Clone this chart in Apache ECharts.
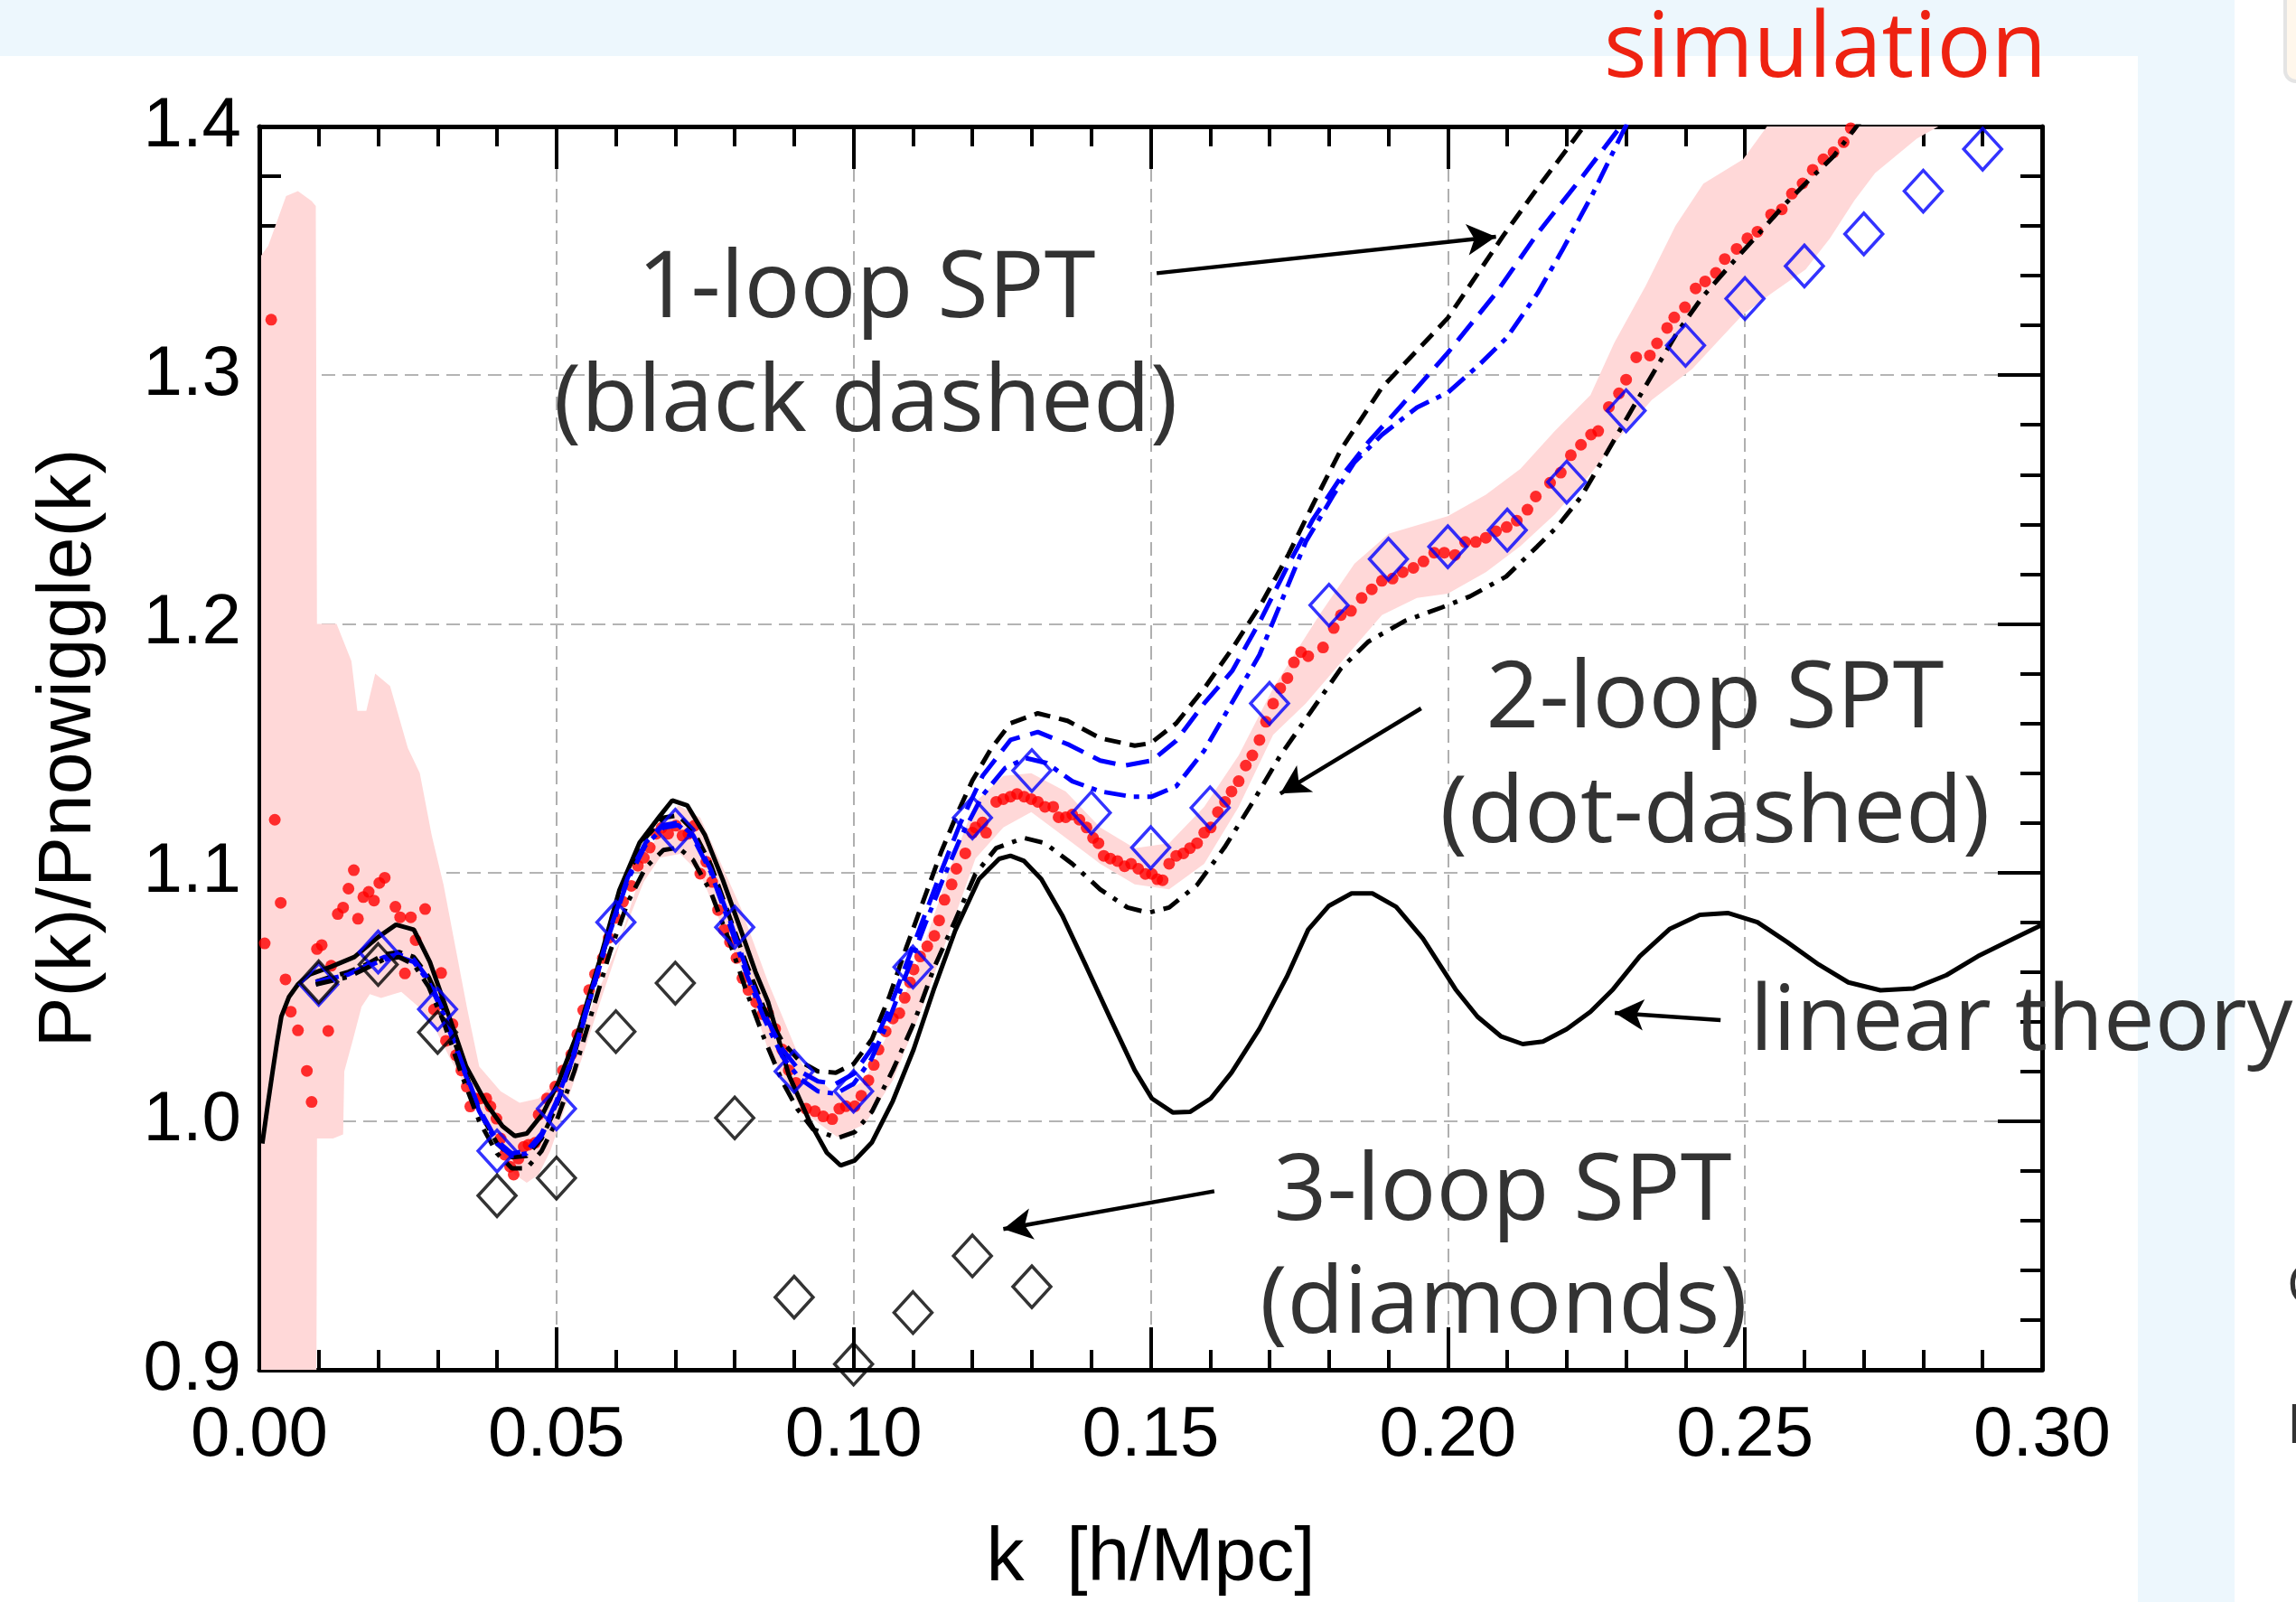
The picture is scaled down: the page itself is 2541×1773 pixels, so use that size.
<!DOCTYPE html>
<html><head><meta charset="utf-8">
<script src="https://cdn.jsdelivr.net/npm/echarts@6/dist/echarts.min.js"></script>
<style>html,body{margin:0;padding:0;background:#fff}#c{width:2541px;height:1773px}</style>
</head><body><div id="c"></div><script>
// ---------------- data ----------------
const xTicks = [0, 0.05, 0.10, 0.15, 0.20, 0.25, 0.30];
const yTicks = [0.9, 1.0, 1.1, 1.2, 1.3, 1.4];

const linearTheory = [[0.0005,0.991],[0.0015,1.008],[0.0023,1.021],[0.003,1.032],[0.0037,1.042],[0.005,1.050],[0.0065,1.055],[0.0085,1.059],[0.012,1.062],[0.016,1.066],[0.02,1.074],[0.023,1.079],[0.026,1.077],[0.0287,1.064],[0.0321,1.041],[0.0348,1.022],[0.0382,1.007],[0.0409,0.998],[0.043,0.994],[0.045,0.995],[0.0477,1.003],[0.0504,1.016],[0.0538,1.037],[0.0572,1.064],[0.0606,1.093],[0.064,1.112],[0.0674,1.1227],[0.0695,1.129],[0.072,1.127],[0.075,1.115],[0.078,1.097],[0.081,1.077],[0.0835,1.060],[0.0856,1.048],[0.0891,1.0185],[0.0926,0.9998],[0.0955,0.9873],[0.0978,0.9822],[0.1002,0.9842],[0.1031,0.9915],[0.1066,1.0081],[0.1101,1.0288],[0.1136,1.0537],[0.1171,1.0766],[0.1211,1.0973],[0.1245,1.1055],[0.1264,1.1067],[0.1287,1.1046],[0.1316,1.0973],[0.1351,1.0828],[0.1392,1.062],[0.1432,1.0413],[0.1473,1.0205],[0.1502,1.0091],[0.1537,1.0035],[0.1566,1.0037],[0.1601,1.0091],[0.1636,1.0195],[0.1683,1.0371],[0.1729,1.058],[0.1765,1.077],[0.18,1.0866],[0.1838,1.0916],[0.1873,1.0916],[0.1913,1.0862],[0.1958,1.0735],[0.2013,1.053],[0.205,1.042],[0.209,1.034],[0.2126,1.031],[0.216,1.032],[0.22,1.037],[0.224,1.044],[0.2278,1.053],[0.2323,1.0663],[0.2373,1.0772],[0.2424,1.083],[0.2471,1.0837],[0.2521,1.080],[0.2571,1.072],[0.2624,1.063],[0.2674,1.0558],[0.2728,1.0526],[0.2783,1.0533],[0.2839,1.0587],[0.2892,1.0663],[0.2953,1.0735],[0.3,1.079]];

const oneLoop = [[0.0095,1.056],[0.012,1.058],[0.015,1.060],[0.018,1.063],[0.021,1.067],[0.0235,1.068],[0.026,1.066],[0.0285,1.058],[0.031,1.045],[0.034,1.024],[0.037,1.004],[0.04,0.991],[0.0425,0.9855],[0.045,0.986],[0.0475,0.993],[0.05,1.006],[0.053,1.027],[0.056,1.052],[0.059,1.077],[0.062,1.099],[0.065,1.114],[0.068,1.122],[0.0705,1.123],[0.073,1.117],[0.076,1.103],[0.079,1.083],[0.082,1.063],[0.085,1.045],[0.088,1.032],[0.091,1.024],[0.094,1.020],[0.097,1.0195],[0.1,1.023],[0.1031,1.033],[0.106,1.050],[0.1089,1.070],[0.1118,1.089],[0.1147,1.108],[0.1175,1.124],[0.120,1.137],[0.1232,1.150],[0.1264,1.160],[0.131,1.164],[0.136,1.161],[0.1415,1.154],[0.1473,1.151],[0.150,1.152],[0.1543,1.160],[0.159,1.174],[0.1637,1.190],[0.1686,1.208],[0.1732,1.228],[0.1773,1.248],[0.182,1.270],[0.1889,1.295],[0.2,1.323],[0.2093,1.356],[0.215,1.375],[0.2204,1.392],[0.226,1.41]];

const blueDashed = [[0.0095,1.056],[0.015,1.059],[0.021,1.066],[0.0235,1.067],[0.026,1.065],[0.0285,1.057],[0.031,1.044],[0.034,1.024],[0.037,1.005],[0.04,0.992],[0.0425,0.987],[0.045,0.988],[0.0475,0.995],[0.05,1.008],[0.053,1.028],[0.056,1.053],[0.059,1.077],[0.062,1.098],[0.065,1.112],[0.068,1.119],[0.0705,1.120],[0.073,1.115],[0.076,1.101],[0.079,1.082],[0.082,1.061],[0.085,1.043],[0.088,1.029],[0.091,1.020],[0.094,1.016],[0.097,1.015],[0.1,1.019],[0.103,1.029],[0.106,1.045],[0.109,1.064],[0.112,1.083],[0.115,1.102],[0.118,1.120],[0.1217,1.1388],[0.1264,1.1533],[0.131,1.1565],[0.1363,1.1513],[0.1415,1.145],[0.1456,1.143],[0.1502,1.145],[0.1543,1.153],[0.159,1.168],[0.1637,1.181],[0.1686,1.202],[0.1732,1.224],[0.1773,1.242],[0.182,1.259],[0.1866,1.273],[0.1919,1.287],[0.2,1.309],[0.2081,1.333],[0.2151,1.357],[0.2227,1.38],[0.2297,1.402]];

const blueDashDot = [[0.0095,1.055],[0.015,1.059],[0.021,1.065],[0.0235,1.066],[0.026,1.064],[0.0285,1.056],[0.031,1.043],[0.034,1.023],[0.037,1.004],[0.04,0.991],[0.0425,0.986],[0.045,0.987],[0.0475,0.994],[0.05,1.007],[0.053,1.027],[0.056,1.052],[0.059,1.076],[0.062,1.097],[0.065,1.111],[0.068,1.118],[0.0705,1.119],[0.073,1.114],[0.076,1.100],[0.079,1.080],[0.082,1.059],[0.085,1.041],[0.088,1.026],[0.091,1.017],[0.094,1.012],[0.097,1.011],[0.1,1.015],[0.103,1.025],[0.106,1.041],[0.109,1.060],[0.112,1.079],[0.115,1.097],[0.118,1.114],[0.1217,1.131],[0.1255,1.142],[0.129,1.146],[0.1325,1.144],[0.1368,1.1367],[0.1415,1.1326],[0.1467,1.1305],[0.1502,1.1305],[0.1543,1.1347],[0.159,1.149],[0.1636,1.168],[0.1683,1.1875],[0.172,1.209],[0.1761,1.233],[0.1808,1.252],[0.1843,1.265],[0.1889,1.276],[0.1948,1.287],[0.2,1.293],[0.2052,1.304],[0.2099,1.315],[0.2151,1.333],[0.2192,1.350],[0.2244,1.373],[0.2297,1.399],[0.231,1.405]];

const twoLoop = [[0.0095,1.055],[0.015,1.058],[0.021,1.065],[0.0235,1.066],[0.026,1.063],[0.0285,1.054],[0.031,1.040],[0.034,1.019],[0.037,1.000],[0.04,0.987],[0.0425,0.981],[0.045,0.981],[0.0475,0.988],[0.05,1.000],[0.053,1.020],[0.056,1.044],[0.059,1.068],[0.062,1.088],[0.065,1.102],[0.068,1.109],[0.0705,1.110],[0.073,1.105],[0.076,1.092],[0.079,1.073],[0.082,1.052],[0.085,1.033],[0.088,1.016],[0.0905,1.005],[0.0932,0.9967],[0.0973,0.9932],[0.1002,0.9956],[0.1031,1.0039],[0.1066,1.0205],[0.1101,1.0392],[0.1136,1.062],[0.1171,1.0807],[0.1205,1.0994],[0.124,1.1098],[0.1287,1.1139],[0.1322,1.1118],[0.1368,1.1035],[0.1415,1.0932],[0.1461,1.0859],[0.1496,1.0838],[0.1531,1.0859],[0.1578,1.095],[0.1624,1.110],[0.1671,1.128],[0.1718,1.147],[0.1769,1.1645],[0.182,1.182],[0.1866,1.1928],[0.1928,1.2012],[0.199,1.2066],[0.2037,1.211],[0.2098,1.219],[0.215,1.231],[0.2183,1.2388],[0.2224,1.251],[0.2265,1.2677],[0.2305,1.2843],[0.2346,1.301],[0.2387,1.3175],[0.2428,1.3313],[0.2474,1.3439],[0.2521,1.3563],[0.2568,1.3689],[0.2607,1.3783],[0.2649,1.388],[0.269,1.4007],[0.271,1.407]];

const simulation = [[0.0009,1.0715],[0.002,1.3223],[0.0026,1.1212],[0.0036,1.0878],[0.0044,1.057],[0.0053,1.044],[0.0065,1.0365],[0.008,1.0202],[0.0088,1.0077],[0.0097,1.0692],[0.0105,1.0708],[0.0116,1.0363],[0.0121,1.0625],[0.0132,1.0833],[0.0141,1.0859],[0.015,1.0935],[0.0159,1.1009],[0.0166,1.0814],[0.0175,1.0901],[0.0184,1.0922],[0.0193,1.0887],[0.0202,1.0958],[0.0211,1.0979],[0.0229,1.0862],[0.0237,1.082],[0.0245,1.0594],[0.0255,1.082],[0.0263,1.0728],[0.0279,1.0853],[0.0294,1.0449],[0.0306,1.0596],[0.0314,1.0323],[0.0325,1.039],[0.0331,1.0265],[0.034,1.0204],[0.0349,1.0139],[0.0355,1.0059],[0.0364,1.0091],[0.0372,1.0091],[0.0382,1.0091],[0.0389,1.0059],[0.0399,1.001],[0.0406,0.993],[0.0413,0.9865],[0.0422,0.9817],[0.0428,0.9785],[0.0436,0.9849],[0.0445,0.9897],[0.0453,0.9905],[0.0464,0.9913],[0.047,1.0026],[0.0484,1.0091],[0.0498,1.0139],[0.0511,1.0204],[0.0525,1.0268],[0.0535,1.0349],[0.0545,1.0446],[0.0555,1.0527],[0.0565,1.0591],[0.0578,1.0656],[0.0588,1.0737],[0.0599,1.0817],[0.0612,1.0882],[0.0626,1.0946],[0.0637,1.1027],[0.0647,1.1059],[0.0657,1.11],[0.0668,1.1156],[0.0677,1.118],[0.0688,1.1156],[0.0701,1.1188],[0.0712,1.1148],[0.0722,1.1156],[0.0732,1.1188],[0.0742,1.0995],[0.0752,1.1043],[0.0762,1.0962],[0.0772,1.0849],[0.0782,1.0769],[0.0792,1.072],[0.0803,1.0656],[0.0813,1.0575],[0.0823,1.0527],[0.0836,1.0478],[0.0847,1.043],[0.0856,1.0434],[0.0868,1.0371],[0.088,1.0288],[0.0891,1.0205],[0.0903,1.0154],[0.092,1.005],[0.0935,1.004],[0.0949,1.0019],[0.0964,1.0008],[0.0976,1.005],[0.0987,1.006],[0.1002,1.006],[0.1013,1.0102],[0.1025,1.0164],[0.1034,1.0226],[0.1042,1.0288],[0.1054,1.0361],[0.1066,1.0413],[0.1077,1.0434],[0.1086,1.0496],[0.1095,1.0558],[0.1101,1.061],[0.1112,1.0662],[0.1124,1.0703],[0.1136,1.0745],[0.1144,1.0807],[0.1153,1.089],[0.1165,1.0952],[0.1173,1.1015],[0.1188,1.1077],[0.12,1.116],[0.1205,1.1181],[0.1217,1.1201],[0.1223,1.116],[0.124,1.1284],[0.1252,1.1295],[0.1264,1.1305],[0.1275,1.1316],[0.1287,1.1305],[0.1299,1.1295],[0.131,1.1284],[0.1322,1.1264],[0.1336,1.1264],[0.1345,1.1222],[0.1357,1.1222],[0.1368,1.1233],[0.138,1.1212],[0.1392,1.1181],[0.1403,1.1139],[0.1412,1.1118],[0.1421,1.1067],[0.1432,1.1056],[0.1444,1.1046],[0.1456,1.1025],[0.1467,1.1035],[0.1479,1.1015],[0.1491,1.0994],[0.1502,1.0994],[0.1511,1.0973],[0.152,1.0969],[0.1531,1.1035],[0.1543,1.1067],[0.1555,1.1077],[0.1566,1.1098],[0.1578,1.1118],[0.159,1.116],[0.1601,1.1181],[0.1613,1.1243],[0.1625,1.1284],[0.1636,1.1326],[0.1648,1.1367],[0.166,1.143],[0.1671,1.1471],[0.1683,1.1533],[0.1694,1.1606],[0.1706,1.1679],[0.1718,1.1741],[0.173,1.1782],[0.1741,1.1845],[0.1753,1.1886],[0.1765,1.187],[0.179,1.1905],[0.1808,1.1983],[0.182,1.2035],[0.1837,1.2052],[0.1855,1.2104],[0.1872,1.2139],[0.1889,1.2173],[0.1907,1.2182],[0.1924,1.2208],[0.1942,1.2225],[0.1959,1.2251],[0.1977,1.2286],[0.1994,1.2286],[0.2012,1.2277],[0.2029,1.2329],[0.2047,1.2329],[0.2064,1.2346],[0.2081,1.2372],[0.2099,1.2389],[0.2116,1.2415],[0.2134,1.2459],[0.2148,1.2512],[0.2172,1.2567],[0.219,1.2608],[0.2207,1.2678],[0.2224,1.272],[0.2241,1.2761],[0.2253,1.2775],[0.2271,1.2872],[0.2288,1.2927],[0.23,1.2982],[0.2317,1.3072],[0.234,1.3079],[0.2352,1.3128],[0.2369,1.319],[0.2381,1.3232],[0.2399,1.3273],[0.2417,1.3349],[0.2433,1.3377],[0.2451,1.3411],[0.2466,1.3467],[0.2486,1.3508],[0.2504,1.355],[0.2521,1.3577],[0.2544,1.3646],[0.2562,1.3667],[0.2579,1.373],[0.2597,1.3771],[0.2614,1.3826],[0.2632,1.3868],[0.2649,1.3896],[0.2666,1.3937],[0.2678,1.3993]];

const bandUpper = [[0.0003,1.348],[0.0015,1.352],[0.0045,1.372],[0.0065,1.374],[0.0088,1.370],[0.0095,1.368],[0.0097,1.20],[0.013,1.20],[0.0155,1.185],[0.0165,1.165],[0.018,1.165],[0.0195,1.18],[0.022,1.175],[0.025,1.15],[0.027,1.14],[0.029,1.115],[0.031,1.095],[0.033,1.07],[0.035,1.045],[0.037,1.022],[0.0406,1.012],[0.0438,1.0074],[0.047,1.0091],[0.0497,1.0155],[0.0531,1.0284],[0.0565,1.0494],[0.0606,1.072],[0.064,1.098],[0.0674,1.118],[0.0705,1.127],[0.0742,1.122],[0.0776,1.104],[0.081,1.086],[0.0856,1.056],[0.0914,1.0226],[0.0973,1.0102],[0.1019,1.0164],[0.1066,1.0392],[0.1112,1.0662],[0.1159,1.0994],[0.1205,1.1284],[0.1252,1.1388],[0.1299,1.1399],[0.1357,1.1326],[0.1415,1.1181],[0.1473,1.1098],[0.1531,1.1118],[0.159,1.1264],[0.1648,1.1471],[0.1706,1.1741],[0.1753,1.192],[0.1785,1.204],[0.1843,1.2242],[0.1901,1.2363],[0.2,1.2433],[0.2064,1.2519],[0.2122,1.2623],[0.218,1.2775],[0.224,1.292],[0.228,1.313],[0.2333,1.336],[0.2383,1.36],[0.243,1.377],[0.2497,1.3868],[0.2544,1.4023],[0.26,1.41]];

const bandLower = [[0.0003,0.88],[0.0096,0.88],[0.0097,0.993],[0.0124,0.993],[0.0141,0.9947],[0.0143,1.02],[0.0158,1.0332],[0.0172,1.046],[0.0186,1.0511],[0.0205,1.0495],[0.0226,1.0511],[0.0239,1.052],[0.0267,1.0462],[0.0294,1.0381],[0.0321,1.0252],[0.0348,1.0139],[0.0375,1.001],[0.0402,0.9897],[0.043,0.9785],[0.045,0.9752],[0.047,0.9785],[0.049,0.9882],[0.0511,1.003],[0.0545,1.0268],[0.0578,1.0511],[0.0612,1.0753],[0.0647,1.0963],[0.0674,1.1059],[0.0708,1.1075],[0.0742,1.0995],[0.0776,1.080],[0.081,1.062],[0.0856,1.0288],[0.0914,1.0039],[0.0973,0.9936],[0.1019,0.9988],[0.1066,1.0164],[0.1112,1.0434],[0.1159,1.0745],[0.1205,1.1056],[0.1252,1.1181],[0.1299,1.1243],[0.1357,1.1139],[0.1415,1.1035],[0.1473,1.0952],[0.1531,1.0932],[0.159,1.1035],[0.1648,1.1264],[0.1706,1.1554],[0.1761,1.168],[0.182,1.1844],[0.1889,1.2035],[0.1948,1.2104],[0.2,1.2121],[0.2064,1.2208],[0.2122,1.2312],[0.218,1.244],[0.2239,1.26],[0.2285,1.274],[0.2343,1.290],[0.2411,1.3024],[0.2459,1.3148],[0.2497,1.3245],[0.2544,1.3328],[0.2602,1.3425],[0.2643,1.355],[0.2684,1.3702],[0.2719,1.3813],[0.2754,1.3882],[0.2789,1.3951],[0.2835,1.4013],[0.286,1.41]];

const blueDiamonds = [[0.01,1.055],[0.02,1.068],[0.03,1.045],[0.04,0.988],[0.05,1.005],[0.06,1.080],[0.07,1.117],[0.08,1.078],[0.09,1.020],[0.10,1.012],[0.11,1.062],[0.12,1.122],[0.13,1.141],[0.14,1.124],[0.15,1.110],[0.16,1.126],[0.17,1.168],[0.18,1.2075],[0.19,1.226],[0.20,1.231],[0.21,1.2377],[0.22,1.257],[0.23,1.2857],[0.24,1.312],[0.25,1.3308],[0.26,1.3439],[0.27,1.3568],[0.28,1.374],[0.29,1.3909]];

const blackDiamonds = [[0.01,1.056],[0.02,1.063],[0.03,1.0357],[0.04,0.970],[0.05,0.9771],[0.06,1.036],[0.07,1.0555],[0.08,1.0013],[0.09,0.9292],[0.10,0.9023],[0.11,0.923],[0.12,0.9458],[0.13,0.9334]];

// arrows: [tailK, tailY, headK, headY]
const arrows = [[0.151,1.341,0.2081,1.3557],[0.1955,1.166,0.1718,1.1317],[0.2459,1.0406,0.2281,1.0435],[0.1607,0.9718,0.1252,0.9566]];

// ---------------- chart ----------------
const chart = echarts.init(document.getElementById('c'));
const tickFont = '"Liberation Sans", Arial, Helvetica, sans-serif';
const annoFont = '"Open Sans", "Noto Sans", sans-serif';

function xAx(pos, labels) {
  return {
    type: 'value', position: pos, min: 0, max: 0.3, interval: 0.05,
    axisLine: { show: true, onZero: false, lineStyle: { color: '#000', width: 5 } },
    axisTick: { show: true, inside: true, length: 47, lineStyle: { color: '#000', width: 4 } },
    minorTick: { show: true, splitNumber: 5, length: 22, lineStyle: { color: '#000', width: 4 } },
    axisLabel: { show: labels, fontSize: 78, color: '#000', fontFamily: tickFont, margin: 34,
      showMinLabel: true, showMaxLabel: true, formatter: v => v.toFixed(2) },
    splitLine: { show: labels, lineStyle: { color: '#9c9c9c', width: 1.6, type: [15, 8] } },
    name: labels ? 'k  [h/Mpc]' : '', nameLocation: 'middle', nameGap: 168,
    nameTextStyle: { fontSize: 84, color: '#000', fontFamily: tickFont }
  };
}
function yAx(pos, labels) {
  return {
    type: 'value', position: pos, min: 0.9, max: 1.4, interval: 0.1,
    axisLine: { show: true, onZero: false, lineStyle: { color: '#000', width: 5 } },
    axisTick: { show: true, inside: true, length: 49, lineStyle: { color: '#000', width: 4 } },
    minorTick: { show: true, splitNumber: 5, length: 24, lineStyle: { color: '#000', width: 4 } },
    axisLabel: { show: labels, fontSize: 78, color: '#000', fontFamily: tickFont, margin: 20,
      showMinLabel: true, showMaxLabel: true, formatter: v => v.toFixed(1) },
    splitLine: { show: labels, lineStyle: { color: '#9c9c9c', width: 1.6, type: [15, 8] } },
    name: labels ? 'P(k)/Pnowiggle(k)' : '', nameLocation: 'middle', nameGap: 168, nameRotate: 90,
    nameTextStyle: { fontSize: 84, color: '#000', fontFamily: tickFont }
  };
}

function txt(x, y, s, size, color) {
  return { type: 'text', x: x, y: y, z: 100,
    style: { text: s, fontSize: size, fontFamily: annoFont, fill: color,
      align: 'center', verticalAlign: 'middle', textAlign: 'center', textVerticalAlign: 'middle' } };
}

const lineBase = { type: 'line', showSymbol: false, symbol: 'none', smooth: false, clip: true, silent: true, z: 4 };

const option = {
  animation: false,
  backgroundColor: '#ffffff',
  grid: { left: 287, top: 140, right: 281, bottom: 250, containLabel: false },
  xAxis: [xAx('bottom', true), xAx('top', false)],
  yAxis: [yAx('left', true), yAx('right', false)],
  graphic: [
    { type: 'rect', z: -10, shape: { x: 0, y: 0, width: 2473, height: 62 }, style: { fill: '#EDF7FD' } },
    { type: 'rect', z: -10, shape: { x: 2366, y: 0, width: 107, height: 1773 }, style: { fill: '#EDF7FD' } },
    { type: 'rect', z: -10, shape: { x: 2529, y: -20, width: 40, height: 110, r: 12 }, style: { fill: '#FFF7EC', stroke: '#E4E4E4', lineWidth: 4 } },
    { type: 'text', z: -5, x: 2531, y: 1425, style: { text: 'C', fontSize: 60, fontFamily: annoFont, fill: '#333', verticalAlign: 'middle' } },
    { type: 'text', z: -5, x: 2531, y: 1580, style: { text: 'I', fontSize: 60, fontFamily: annoFont, fill: '#333', verticalAlign: 'middle' } },
    txt(2020, 57, 'simulation', 100, '#EE2211'),
    txt(959, 322, '1-loop SPT', 103, '#333333'),
    txt(958, 448, '(black dashed)', 103, '#333333'),
    txt(1898, 776, '2-loop SPT', 103, '#333333'),
    txt(1898, 903, '(dot-dashed)', 103, '#333333'),
    txt(2237, 1133, 'linear theory', 101, '#333333'),
    txt(1663, 1321, '3-loop SPT', 103, '#333333'),
    txt(1664, 1446, '(diamonds)', 103, '#333333')
  ],
  series: [
    { type: 'custom', name: 'band', coordinateSystem: 'cartesian2d', clip: true, silent: true, z: 1,
      data: [[0.1, 1.1]],
      renderItem: function (params, api) {
        if (params.dataIndex !== 0) return;
        const pts = bandUpper.map(p => api.coord(p)).concat(bandLower.slice().reverse().map(p => api.coord(p)));
        return { type: 'polygon', shape: { points: pts }, style: { fill: '#FFD8D8' } };
      }
    },
    { type: 'scatter', name: 'simulation', data: simulation, symbol: 'circle', symbolSize: 13, clip: true, silent: true, z: 3,
      itemStyle: { color: '#FF0000' } },
    Object.assign({}, lineBase, { name: 'linear', data: linearTheory, lineStyle: { color: '#000', width: 5, type: 'solid' } }),
    Object.assign({}, lineBase, { name: '1-loop', data: oneLoop, lineStyle: { color: '#000', width: 5, type: [18, 10] } }),
    Object.assign({}, lineBase, { name: 'blue dashed', data: blueDashed, lineStyle: { color: '#0000FF', width: 5, type: [26, 12] } }),
    Object.assign({}, lineBase, { name: 'blue dash-dot', data: blueDashDot, lineStyle: { color: '#0000FF', width: 5, type: [24, 9, 6, 9] } }),
    Object.assign({}, lineBase, { name: '2-loop', data: twoLoop, lineStyle: { color: '#000', width: 5, type: [20, 10, 5, 10] } }),
    { type: 'scatter', name: 'blue diamonds', data: blueDiamonds, symbol: 'diamond', symbolSize: [42, 46], clip: true, silent: true, z: 5,
      itemStyle: { color: 'rgba(0,0,0,0)', borderColor: '#0000FF', borderWidth: 3.5 } },
    { type: 'scatter', name: '3-loop', data: blackDiamonds, symbol: 'diamond', symbolSize: [42, 46], clip: true, silent: true, z: 5,
      itemStyle: { color: 'rgba(0,0,0,0)', borderColor: '#000000', borderWidth: 3.5 } },
    { type: 'line', name: 'arrows', data: [], silent: true, z: 6,
      markLine: { silent: true, animation: false, symbol: ['none', 'arrow'], symbolSize: [26, 32],
        label: { show: false }, emphasis: { disabled: true },
        lineStyle: { color: '#000', width: 4.5, type: 'solid' },
        data: arrows.map(a => [{ coord: [a[0], a[1]] }, { coord: [a[2], a[3]] }]) } }
  ]
};
chart.setOption(option);
</script></body></html>
